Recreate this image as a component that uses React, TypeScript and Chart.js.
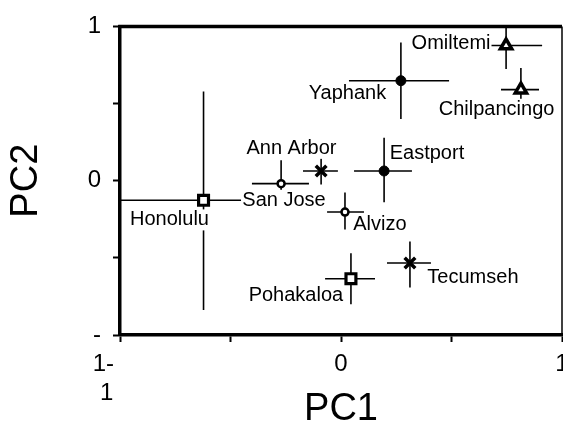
import React, { useEffect, useRef } from "react";
import { Chart, registerables } from "chart.js";

Chart.register(...registerables);

// ---- data ----
const sites = ["Honolulu", "San Jose", "Ann Arbor", "Eastport", "Yaphank", "Omiltemi", "Chilpancingo", "Alvizo", "Pohakaloa", "Tecumseh"];
const pc1 = [-0.622, -0.271, -0.09, 0.195, 0.271, 0.747, 0.814, 0.018, 0.045, 0.312];
const pc1Lo = [-1.0, -0.403, -0.172, 0.059, 0.036, 0.584, 0.724, -0.063, -0.072, 0.208];
const pc1Hi = [-0.452, -0.145, -0.014, 0.321, 0.489, 0.91, 0.896, 0.104, 0.154, 0.407];
const pc2 = [-0.127, -0.019, 0.063, 0.063, 0.648, 0.876, 0.59, -0.203, -0.635, -0.533];
const pc2Lo = [-0.838, -0.171, -0.025, -0.14, 0.4, 0.724, 0.451, -0.317, -0.8, -0.692];
const pc2Hi = [0.578, 0.133, 0.146, 0.279, 0.895, 1.0, 0.73, -0.076, -0.47, -0.394];
const markers = ["square", "openCircle", "cross", "dot", "dot", "triangle", "triangle", "openCircle", "square", "cross"];
const labelX = [-0.776, -0.258, -0.224, 0.389, 0.029, 0.498, 0.704, 0.176, -0.204, 0.597];
const labelY = [-0.254, -0.127, 0.21, 0.178, 0.565, 0.889, 0.463, -0.286, -0.743, -0.629];

const xTickValues = [-1, -0.5, 0, 0.5, 1];
const xTickLabels: (string | string[])[] = [["1-\u00a0\u00a0\u00a0\u00a0\u00a0", "1\u00a0\u00a0\u00a0\u00a0"], "", "0", "", "1"];
const yTickValues = [-1, -0.5, 0, 0.5, 1];
const yTickLabels = ["-", "", "0", "", "1"];

const FONT = '"Liberation Sans", Arial, Helvetica, sans-serif';

const markerStyle: Record<string, { style: string; r: number; bg: string; bw: number }> = {
  dot: { style: "circle", r: 5, bg: "#000", bw: 1 },
  openCircle: { style: "circle", r: 3.5, bg: "#fff", bw: 2.5 },
  cross: { style: "crossRot", r: 7.5, bg: "#000", bw: 3.5 },
  square: { style: "rect", r: 7, bg: "#fff", bw: 3.2 },
  triangle: { style: "triangle", r: 6.5, bg: "#fff", bw: 3.5 },
};

const overlay = {
  id: "overlay",
  beforeDatasetsDraw(chart: any) {
    const { ctx, chartArea, scales } = chart;
    const x = scales.x;
    const y = scales.y;
    ctx.save();
    ctx.beginPath();
    ctx.rect(chartArea.left, chartArea.top, chartArea.right - chartArea.left, chartArea.bottom - chartArea.top);
    ctx.clip();
    ctx.strokeStyle = "#000";
    ctx.lineWidth = 1.6;
    for (let i = 0; i < sites.length; i++) {
      const px = x.getPixelForValue(pc1[i]);
      const py = y.getPixelForValue(pc2[i]);
      ctx.beginPath();
      ctx.moveTo(x.getPixelForValue(pc1Lo[i]), py);
      ctx.lineTo(x.getPixelForValue(pc1Hi[i]), py);
      ctx.moveTo(px, y.getPixelForValue(pc2Lo[i]));
      ctx.lineTo(px, y.getPixelForValue(pc2Hi[i]));
      ctx.stroke();
    }
    ctx.font = `20px ${FONT}`;
    ctx.textAlign = "center";
    ctx.textBaseline = "middle";
    for (let i = 0; i < sites.length; i++) {
      const cx = x.getPixelForValue(labelX[i]);
      const cy = y.getPixelForValue(labelY[i]);
      const w = ctx.measureText(sites[i]).width;
      ctx.fillStyle = "#fff";
      ctx.fillRect(cx - w / 2 - 1, cy - 10.5, w + 2, 21);
      ctx.fillStyle = "#000";
      ctx.fillText(sites[i], cx, cy);
    }
    ctx.restore();
  },
  afterDraw(chart: any) {
    const { ctx, chartArea } = chart;
    ctx.save();
    ctx.strokeStyle = "#000";
    ctx.lineWidth = 3.5;
    ctx.beginPath();
    ctx.moveTo(chartArea.left - 1.75, chartArea.top);
    ctx.lineTo(chartArea.right, chartArea.top);
    ctx.stroke();
    ctx.lineWidth = 1.5;
    ctx.beginPath();
    ctx.moveTo(chartArea.right, chartArea.top);
    ctx.lineTo(chartArea.right, chartArea.bottom);
    ctx.stroke();
    ctx.restore();
  },
};

export default function App() {
  const ref = useRef<HTMLCanvasElement>(null);
  useEffect(() => {
    if (!ref.current) return;
    const chart = new Chart(ref.current, {
      type: "scatter",
      data: {
        datasets: [
          {
            data: pc1.map((v, i) => ({ x: v, y: pc2[i] })),
            pointStyle: markers.map((m) => markerStyle[m].style) as any,
            pointRadius: markers.map((m) => markerStyle[m].r),
            pointBackgroundColor: markers.map((m) => markerStyle[m].bg),
            pointBorderColor: "#000",
            pointBorderWidth: markers.map((m) => markerStyle[m].bw),
            showLine: false,
          },
        ],
      },
      options: {
        animation: false,
        responsive: false,
        devicePixelRatio: 1,
        layout: { padding: { left: 0, right: 38, top: 20, bottom: 0 } },
        plugins: { legend: { display: false }, tooltip: { enabled: false } },
        scales: {
          x: {
            type: "linear",
            min: -1,
            max: 1,
            afterBuildTicks: (s: any) => {
              s.ticks = xTickValues.map((v) => ({ value: v }));
            },
            afterFit: (s: any) => {
              s.height = 99;
            },
            ticks: {
              autoSkip: false,
              maxRotation: 0,
              minRotation: 0,
              padding: 8,
              color: "#000",
              font: { family: FONT, size: 24 },
              callback: (v: any) => {
                const i = xTickValues.indexOf(Number(v));
                return i >= 0 ? xTickLabels[i] : "";
              },
            },
            grid: { display: true, drawOnChartArea: false, drawTicks: true, tickLength: 7, tickWidth: 2, tickColor: "#000" },
            border: { display: true, color: "#000", width: 3.5 },
            title: { display: true, text: "PC1", color: "#000", font: { family: FONT, size: 38 }, padding: { top: 0, bottom: 2 } },
          },
          y: {
            type: "linear",
            min: -1,
            max: 1,
            afterBuildTicks: (s: any) => {
              s.ticks = yTickValues.map((v) => ({ value: v }));
            },
            afterFit: (s: any) => {
              s.width = 120;
            },
            ticks: {
              autoSkip: false,
              padding: 12,
              color: "#000",
              font: { family: FONT, size: 24 },
              callback: (v: any) => {
                const i = yTickValues.indexOf(Number(v));
                return i >= 0 ? yTickLabels[i] : "";
              },
            },
            grid: { display: true, drawOnChartArea: false, drawTicks: true, tickLength: 7, tickWidth: 2, tickColor: "#000" },
            border: { display: true, color: "#000", width: 3.5 },
            title: { display: true, text: "PC2", color: "#000", font: { family: FONT, size: 38 }, padding: { top: 4, bottom: 0 } },
          },
        },
      },
      plugins: [overlay],
    } as any);
    return () => chart.destroy();
  }, []);
  return (
    <div style={{ position: "fixed", left: 0, top: 0, width: 563, height: 434, overflow: "hidden", background: "#fff" }}>
      <canvas ref={ref} width={600} height={434} style={{ display: "block", width: 600, height: 434 }} />
    </div>
  );
}
